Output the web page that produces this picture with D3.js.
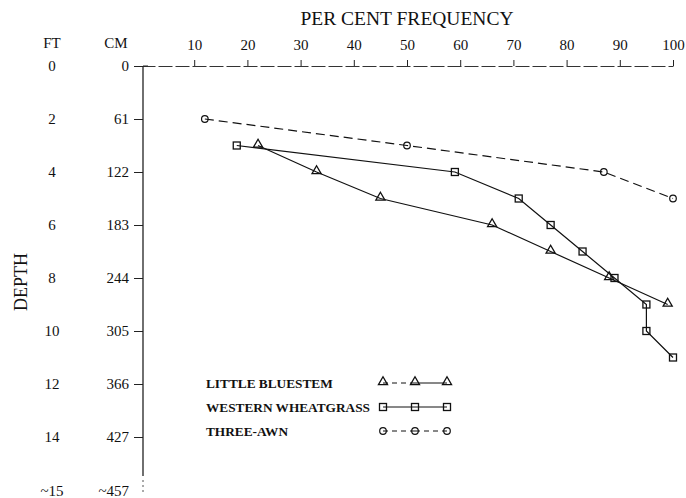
<!DOCTYPE html>
<html>
<head>
<meta charset="utf-8">
<script src="https://cdn.jsdelivr.net/npm/d3@7"></script>
<style>
  body { margin: 0; background: #fff; }
  svg text { font-family: "Liberation Serif", serif; fill: #111; }
</style>
</head>
<body>
<svg id="chart" width="686" height="498"></svg>
<script>
// per cent frequency of roots at each depth (depth in feet)
const bluestemFt = [3, 4, 5, 6, 7, 8, 9];
const bluestemPct = [22, 33, 45, 66, 77, 88, 99];
const wheatgrassFt = [3, 4, 5, 6, 7, 8, 9, 10, 11];
const wheatgrassPct = [18, 59, 71, 77, 83, 89, 95, 95, 100];
const threeAwnFt = [2, 3, 4, 5];
const threeAwnPct = [12, 50, 87, 100];

const freqTicks = [10, 20, 30, 40, 50, 60, 70, 80, 90, 100];
const depthTicks = [0, 2, 4, 6, 8, 10, 12, 14, 15];
const ftLabels = ["0", "2", "4", "6", "8", "10", "12", "14", "~15"];
const cmLabels = ["0", "61", "122", "183", "244", "305", "366", "427", "~457"];

const seriesNames = ["LITTLE BLUESTEM", "WESTERN WHEATGRASS", "THREE-AWN"];

const svg = d3.select("#chart");

const xScale = d3.scaleLinear().domain([0, 100]).range([141, 673]);
// the last label sits lower than an even step in the original figure
const yScale = d3.scaleLinear().domain([0, 14, 15]).range([66, 437, 491]);

// title
svg.append("text")
  .attr("x", 407)
  .attr("y", 25)
  .attr("text-anchor", "middle")
  .attr("font-size", "19.5px")
  .text("PER CENT FREQUENCY");

// top axis, ticks pointing up
const xAxis = d3.axisTop(xScale)
  .tickValues(freqTicks)
  .tickSize(6)
  .tickSizeOuter(0)
  .tickPadding(10);

const gx = svg.append("g")
  .attr("transform", "translate(0,66)")
  .call(xAxis);
gx.select(".domain").attr("stroke", "#333").attr("stroke-dasharray", "14,3");
gx.selectAll(".tick line").attr("stroke", "#222");
gx.selectAll("text")
  .attr("font-family", "Liberation Serif, serif")
  .attr("font-size", "15px")
  .attr("fill", "#111");

// left axis (cm)
const yAxis = d3.axisLeft(yScale)
  .tickValues(depthTicks.slice(0, -1))
  .tickFormat(function (d, i) {
    return cmLabels[i];
  })
  .tickSize(9)
  .tickPadding(5);

const gy = svg.append("g")
  .attr("transform", "translate(143,0)")
  .call(yAxis);
gy.select(".domain").remove();
gy.selectAll(".tick line").attr("stroke", "#222");
gy.selectAll("text")
  .attr("font-family", "Liberation Serif, serif")
  .attr("font-size", "15px")
  .attr("fill", "#111");

// little cross at the origin
svg.append("line")
  .attr("x1", 143).attr("x2", 148)
  .attr("y1", 66).attr("y2", 66)
  .attr("stroke", "#222");

svg.append("line")
  .attr("x1", 143).attr("x2", 143)
  .attr("y1", 66).attr("y2", 476)
  .attr("stroke", "#222")
  .attr("stroke-width", 1.3);
svg.append("line")
  .attr("x1", 143).attr("x2", 143)
  .attr("y1", 480).attr("y2", 492)
  .attr("stroke", "#555")
  .attr("stroke-dasharray", "2,3");

// last cm label has no tick
svg.append("text")
  .attr("x", 129)
  .attr("y", yScale(15))
  .attr("dy", "0.32em")
  .attr("text-anchor", "end")
  .attr("font-size", "15px")
  .text(cmLabels[cmLabels.length - 1]);

// feet column
svg.selectAll(".ft")
  .data(depthTicks)
  .enter()
  .append("text")
  .attr("class", "ft")
  .attr("x", 52)
  .attr("y", function (d) {
    return yScale(d);
  })
  .attr("dy", "0.32em")
  .attr("text-anchor", "middle")
  .attr("font-size", "15px")
  .text(function (d, i) {
    return ftLabels[i];
  });

svg.append("text").attr("x", 52).attr("y", 48)
  .attr("text-anchor", "middle").attr("font-size", "15px").text("FT");
svg.append("text").attr("x", 116).attr("y", 48)
  .attr("text-anchor", "middle").attr("font-size", "15px").text("CM");

svg.append("text")
  .attr("transform", "translate(27,282) rotate(-90)")
  .attr("text-anchor", "middle")
  .attr("font-size", "18px")
  .text("DEPTH");

// markers
function drawMarker(g, type, cx, cy) {
  if (type === "triangle") {
    g.append("path")
      .attr("d", d3.symbol().type(d3.symbolTriangle).size(36)())
      .attr("transform", "translate(" + cx + "," + (cy - 1) + ")")
      .attr("fill", "none").attr("stroke", "#111").attr("stroke-width", 1.3);
  } else if (type === "square") {
    g.append("rect")
      .attr("x", cx - 3.5).attr("y", cy - 3.5)
      .attr("width", 7).attr("height", 7)
      .attr("fill", "none").attr("stroke", "#111").attr("stroke-width", 1.3);
  } else {
    g.append("circle")
      .attr("cx", cx).attr("cy", cy).attr("r", 3.3)
      .attr("fill", "none").attr("stroke", "#111").attr("stroke-width", 1.2);
  }
}

const series = [
  { name: seriesNames[0], ft: bluestemFt, pct: bluestemPct, marker: "triangle", dash: null },
  { name: seriesNames[1], ft: wheatgrassFt, pct: wheatgrassPct, marker: "square", dash: null },
  { name: seriesNames[2], ft: threeAwnFt, pct: threeAwnPct, marker: "circle", dash: "9,5" },
];

const line = d3.line()
  .x(function (d) {
    return xScale(d.pct);
  })
  .y(function (d) {
    return yScale(d.ft);
  })
  .curve(d3.curveLinear);

series.forEach(function (s) {
  const pts = s.ft.map(function (f, i) {
    return { ft: f, pct: s.pct[i] };
  });
  const g = svg.append("g");
  g.append("path")
    .attr("d", line(pts))
    .attr("fill", "none")
    .attr("stroke", "#111")
    .attr("stroke-width", 1.2)
    .attr("stroke-dasharray", s.dash);
  pts.forEach(function (p) {
    drawMarker(g, s.marker, xScale(p.pct), yScale(p.ft));
  });
});

// legend: each sample has a left and right half with its own dash style
const legendDash = [["5,4", null], [null, null], ["5,4", "5,4"]];
series.forEach(function (s, i) {
  const ly = 383 + i * 24;
  const g = svg.append("g");
  g.append("text")
    .attr("x", 206)
    .attr("y", ly)
    .attr("dy", "0.35em")
    .attr("font-size", "13.3px")
    .attr("font-weight", "bold")
    .text(s.name);
  [[383, 415], [415, 447]].forEach(function (seg, j) {
    g.append("line")
      .attr("x1", seg[0]).attr("x2", seg[1])
      .attr("y1", ly).attr("y2", ly)
      .attr("stroke", "#111")
      .attr("stroke-width", 1)
      .attr("stroke-dasharray", legendDash[i][j]);
  });
  [383, 415, 447].forEach(function (lx) {
    drawMarker(g, s.marker, lx, ly);
  });
});
</script>
</body>
</html>
